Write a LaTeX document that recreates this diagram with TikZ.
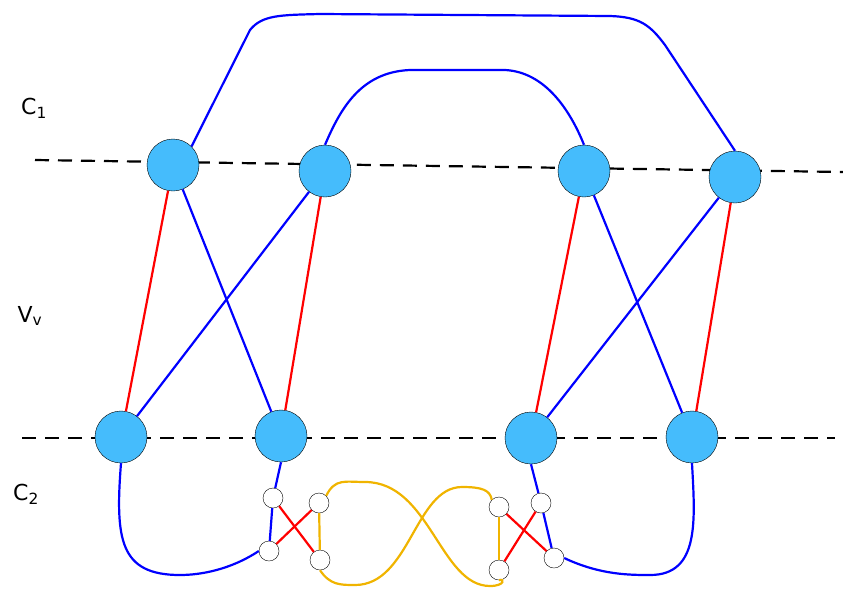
\documentclass[tikz,border=0pt]{standalone}
\usepackage{fontspec}
\setmainfont{DejaVu Sans}
\definecolor{nodeblue}{HTML}{45BCFC}
\definecolor{loopyellow}{HTML}{F0B400}
\tikzset{
  big/.style={circle, draw=black, fill=nodeblue, minimum size=52pt, inner sep=0pt},
  small/.style={circle, draw=black, fill=white, minimum size=20pt, inner sep=0pt},
  blueline/.style={blue, line width=2.2pt},
  redline/.style={red, line width=2.2pt},
  yellowline/.style={loopyellow, line width=2.2pt},
  cutline/.style={black, dashed, line width=2.2pt, dash pattern=on 14pt off 9pt},
  lab/.style={font=\fontsize{22}{26}\selectfont}
}
\begin{document}
\begin{tikzpicture}[x=1pt, y=-1pt]
\useasboundingbox (0,0) rectangle (843,592);

% cut lines
\coordinate (t1) at (35,160);
\coordinate (t2) at (843,172);
\coordinate (b1) at (22,438);
\coordinate (b2) at (835,438);
\draw [cutline] (t1) -- (t2);
\draw [cutline] (b1) -- (b2);

% labels
\node (lc1) [lab] at (34,108) {C\textsubscript{1}};
\node (lvv) [lab] at (30,316) {V\textsubscript{v}};
\node (lc2) [lab] at (26,494) {C\textsubscript{2}};

% big nodes
\node (A1) [big] at (173,165) {};
\node (B1) [big] at (325,171) {};
\node (C1) [big] at (584,171) {};
\node (D1) [big] at (735,177) {};
\node (A2) [big] at (121,437) {};
\node (B2) [big] at (281,436) {};
\node (C2) [big] at (531,438) {};
\node (D2) [big] at (692,437) {};

% small nodes
\node (a1) [small] at (273,498) {};
\node (a2) [small] at (269,551) {};
\node (b1) [small] at (319,503) {};
\node (b2) [small] at (320,560) {};
\node (c1) [small] at (499,507) {};
\node (c2) [small] at (499,570) {};
\node (d1) [small] at (541,503) {};
\node (d2) [small] at (554,558) {};

% edges between the layers
\draw [redline] (A1) -- (A2);
\draw [blueline] (A1) -- (B2);
\draw [blueline] (B1) -- (A2);
\draw [redline] (B1) -- (B2);
\draw [redline] (C1) -- (C2);
\draw [blueline] (C1) -- (D2);
\draw [blueline] (D1) -- (C2);
\draw [redline] (D1) -- (D2);

% arcs over the top
\draw [blueline] (A1.north east) -- (250,30) .. controls (262,15) and (280,15) .. (320,14)
  -- (610,16) .. controls (640,17) and (650,25) .. (665,45) -- (D1.north);
\draw [blueline] (B1.north) .. controls (340,110) and (360,72) .. (410,70)
  -- (505,70) .. controls (545,72) and (570,110) .. (C1.north);

% gadget at the bottom
\draw [blueline] (B2.south) -- (a1);
\draw [blueline] (a1) -- (a2);
\draw [blueline] (a2.west) .. controls (230,570) and (200,575) .. (180,575)
  .. controls (120,575) and (115,540) .. (A2.south);
\draw [blueline] (C2.south) -- (d1);
\draw [blueline] (d1) -- (d2);
\draw [blueline] (d2.east) .. controls (600,575) and (630,575) .. (650,575)
  .. controls (700,575) and (695,520) .. (D2.south);
\draw [redline] (a1) -- (b2);
\draw [redline] (a2) -- (b1);
\draw [redline] (c1) -- (d2);
\draw [redline] (c2) -- (d1);
\draw [yellowline] (b1) -- (b2);
\draw [yellowline] (c1) -- (c2);
\draw [yellowline] (b1.north east) .. controls (335,478) and (345,482) .. (365,482)
  .. controls (430,482) and (440,586) .. (490,586) .. controls (505,586) and (505,578) .. (c2.south);
\draw [yellowline] (b2.south) .. controls (330,585) and (340,585) .. (355,585)
  .. controls (410,585) and (415,487) .. (462,487) .. controls (482,487) and (490,490) .. (c1.north west);
\end{tikzpicture}
\end{document}
